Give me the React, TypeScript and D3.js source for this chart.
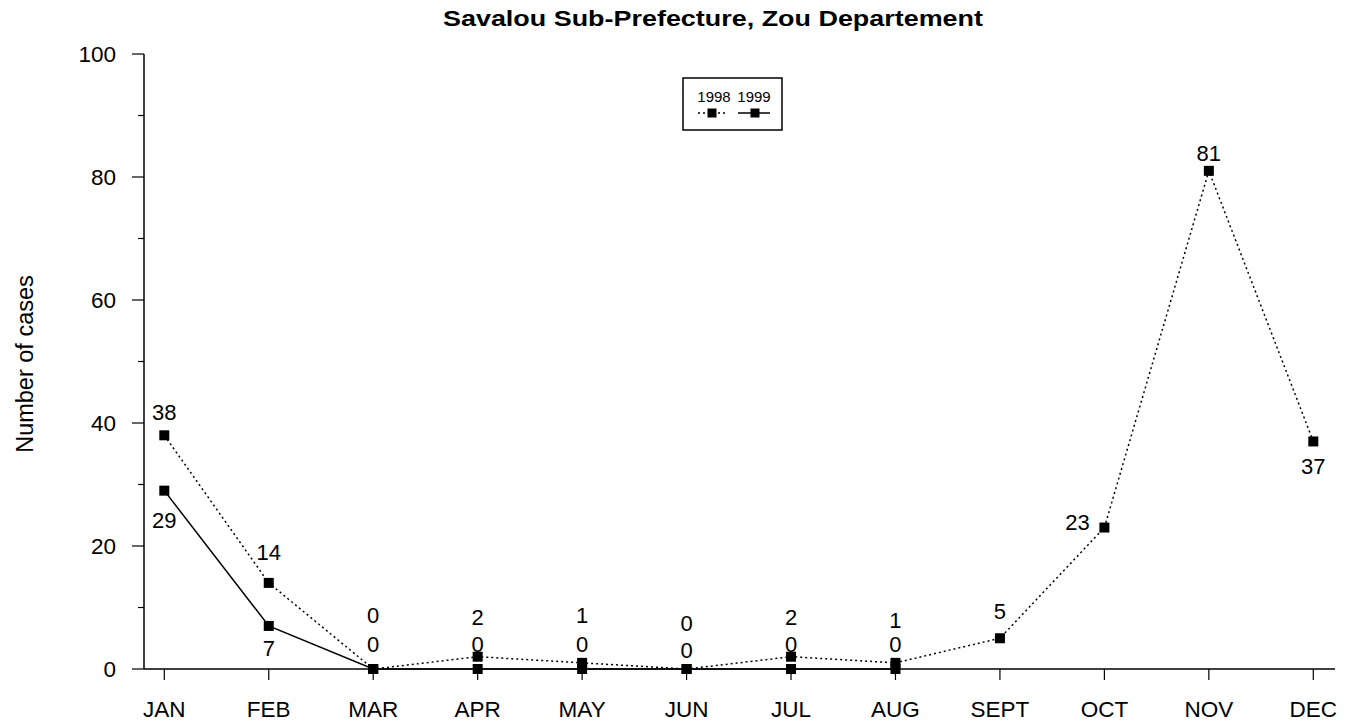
import React from "react";
import * as d3 from "d3";

const months = ["JAN", "FEB", "MAR", "APR", "MAY", "JUN", "JUL", "AUG", "SEPT", "OCT", "NOV", "DEC"];
const cases1998 = [38, 14, 0, 2, 1, 0, 2, 1, 5, 23, 81, 37];
const cases1999 = [29, 7, 0, 0, 0, 0, 0, 0];
const yTicks = [0, 20, 40, 60, 80, 100];
const yMinorTicks = [10, 30, 50, 70, 90];

// label placement offsets (layout only)
const label1998Offset: [number, number][] = [
  [0, -23], [0, -31], [0, -54], [0, -40], [0, -48], [0, -46], [0, -40], [0, -43], [0, -27], [-27, -5], [0, -18], [0, 25],
];
const label1999Offset: [number, number][] = [
  [0, 29], [0, 22], [0, -25], [0, -25], [0, -25], [0, -19], [0, -25], [0, -25],
];

const W = 1352;
const H = 723;
const FONT = "Liberation Sans, Arial, Helvetica, sans-serif";

export default function App() {
  const x = d3.scalePoint<string>().domain(months).range([164.3, 1313.3]);
  const y = d3.scaleLinear().domain([0, 100]).range([669, 54]);
  const line = d3
    .line<number>()
    .x((_, i) => x(months[i])!)
    .y((d) => y(d));
  const ms = 10;

  return (
    <svg
      width={W}
      height={H}
      style={{ position: "absolute", left: 0, top: 0, background: "#fff" }}
      fontFamily={FONT}
    >
      <text
        x={443}
        y={26}
        textAnchor="start"
        fontWeight="bold"
        fontSize={21.5}
        textLength={540}
        lengthAdjust="spacingAndGlyphs"
      >
        Savalou Sub-Prefecture, Zou Departement
      </text>

      {/* Y axis */}
      <line x1={144} x2={144} y1={y(100)} y2={y(0)} stroke="#000" strokeWidth={1.5} />
      {yTicks.map((t) => (
        <g key={t}>
          <line x1={132} x2={144} y1={y(t)} y2={y(t)} stroke="#000" strokeWidth={1.2} />
          <text x={116} y={y(t)} dy="0.36em" textAnchor="end" fontSize={22.5}>
            {t}
          </text>
        </g>
      ))}
      {yMinorTicks.map((t) => (
        <line key={t} x1={138} x2={144} y1={y(t)} y2={y(t)} stroke="#000" strokeWidth={1.2} />
      ))}
      <text
        transform={`translate(33,364) rotate(-90)`}
        textAnchor="middle"
        fontSize={23.5}
      >
        Number of cases
      </text>

      {/* X axis */}
      <line x1={144} x2={1335} y1={y(0)} y2={y(0)} stroke="#000" strokeWidth={1.5} />
      {months.map((m) => (
        <g key={m}>
          <line x1={x(m)} x2={x(m)} y1={y(0)} y2={y(0) + 11} stroke="#000" strokeWidth={1.2} />
          <text x={x(m)} y={717} textAnchor="middle" fontSize={22.5}>
            {m}
          </text>
        </g>
      ))}

      {/* lines */}
      <path d={line(cases1998) || ""} fill="none" stroke="#000" strokeWidth={1.5} strokeDasharray="2,3" />
      <path d={line(cases1999) || ""} fill="none" stroke="#000" strokeWidth={1.5} />

      {/* markers */}
      {cases1998.map((v, i) => (
        <rect key={"a" + i} x={x(months[i])! - ms / 2} y={y(v) - ms / 2} width={ms} height={ms} fill="#000" />
      ))}
      {cases1999.map((v, i) => (
        <rect key={"b" + i} x={x(months[i])! - ms / 2} y={y(v) - ms / 2} width={ms} height={ms} fill="#000" />
      ))}

      {/* labels */}
      {cases1998.map((v, i) => (
        <text
          key={"la" + i}
          x={x(months[i])! + label1998Offset[i][0]}
          y={y(v) + label1998Offset[i][1]}
          dy="0.36em"
          textAnchor="middle"
          fontSize={22}
        >
          {v}
        </text>
      ))}
      {cases1999.map((v, i) => (
        <text
          key={"lb" + i}
          x={x(months[i])! + label1999Offset[i][0]}
          y={y(v) + label1999Offset[i][1]}
          dy="0.36em"
          textAnchor="middle"
          fontSize={22}
        >
          {v}
        </text>
      ))}

      {/* legend */}
      <rect x={683} y={78} width={99} height={52} fill="#fff" stroke="#000" strokeWidth={1.5} />
      <text x={714} y={102} textAnchor="middle" fontSize={15}>1998</text>
      <text x={754} y={102} textAnchor="middle" fontSize={15}>1999</text>
      <line x1={698} x2={726} y1={113} y2={113} stroke="#000" strokeWidth={1.5} strokeDasharray="2,3" />
      <rect x={712 - 4.5} y={113 - 4.5} width={9} height={9} fill="#000" />
      <line x1={738} x2={770} y1={113} y2={113} stroke="#000" strokeWidth={1.5} />
      <rect x={755 - 4.5} y={113 - 4.5} width={9} height={9} fill="#000" />
    </svg>
  );
}
